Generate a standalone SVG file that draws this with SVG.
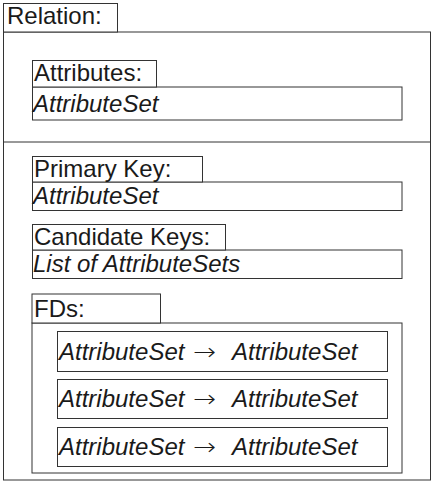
<svg xmlns="http://www.w3.org/2000/svg" width="433" height="483" viewBox="0 0 433 483">
<style>
rect{fill:#fff;stroke:#333;stroke-width:1}
.l{fill:#fff;stroke:#333;stroke-width:1}
text{font-family:"Liberation Sans",Arial,sans-serif;font-size:24px;fill:#1a1a1a}
.i{font-style:italic}
.a{font-family:"DejaVu Sans ExtraLight","DejaVu Sans",sans-serif;font-style:normal;font-weight:200;font-size:24px}
</style>
<rect x="0" y="0" width="433" height="483" style="stroke:none"/>
<g id="relation">
<rect x="3.5" y="32" width="427" height="448"/>
<line class="l" x1="3.5" y1="142" x2="430.5" y2="142"/>
<rect x="3.5" y="3.5" width="114" height="28.5"/>
<text x="7" y="23.5">Relation:</text>
</g>
<g id="attributes">
<rect x="32.5" y="87" width="369.5" height="33"/>
<rect x="32.5" y="60.5" width="124" height="26.5"/>
<text x="34" y="81">Attributes:</text>
<text class="i" x="33" y="111.5">AttributeSet</text>
</g>
<g id="primary-key">
<rect x="32.5" y="182" width="369.5" height="28.5"/>
<rect x="32.5" y="156.5" width="170" height="25.5"/>
<text x="34" y="177">Primary Key:</text>
<text class="i" x="33" y="203.5">AttributeSet</text>
</g>
<g id="candidate-keys">
<rect x="32.5" y="250" width="369.5" height="28.5"/>
<rect x="32.5" y="224.5" width="193" height="25.5"/>
<text x="34" y="245">Candidate Keys:</text>
<text class="i" x="33" y="271.5">List of AttributeSets</text>
</g>
<g id="fds">
<rect x="32" y="323" width="370" height="150"/>
<rect x="32" y="294" width="128.5" height="29"/>
<text x="34" y="316.5">FDs:</text>
</g>
<g id="fd1">
<rect x="57.5" y="331.5" width="330" height="40"/>
<text class="i" y="360"><tspan x="59">AttributeSet</tspan><tspan class="a" x="193" textLength="23" lengthAdjust="spacingAndGlyphs">→</tspan><tspan x="232">AttributeSet</tspan></text>
</g>
<g id="fd2">
<rect x="57.5" y="379.5" width="330" height="39"/>
<text class="i" y="407"><tspan x="59">AttributeSet</tspan><tspan class="a" x="193" textLength="23" lengthAdjust="spacingAndGlyphs">→</tspan><tspan x="232">AttributeSet</tspan></text>
</g>
<g id="fd3">
<rect x="57.5" y="427.5" width="330" height="39"/>
<text class="i" y="455"><tspan x="59">AttributeSet</tspan><tspan class="a" x="193" textLength="23" lengthAdjust="spacingAndGlyphs">→</tspan><tspan x="232">AttributeSet</tspan></text>
</g>
<g id="connectors"></g>
</svg>
